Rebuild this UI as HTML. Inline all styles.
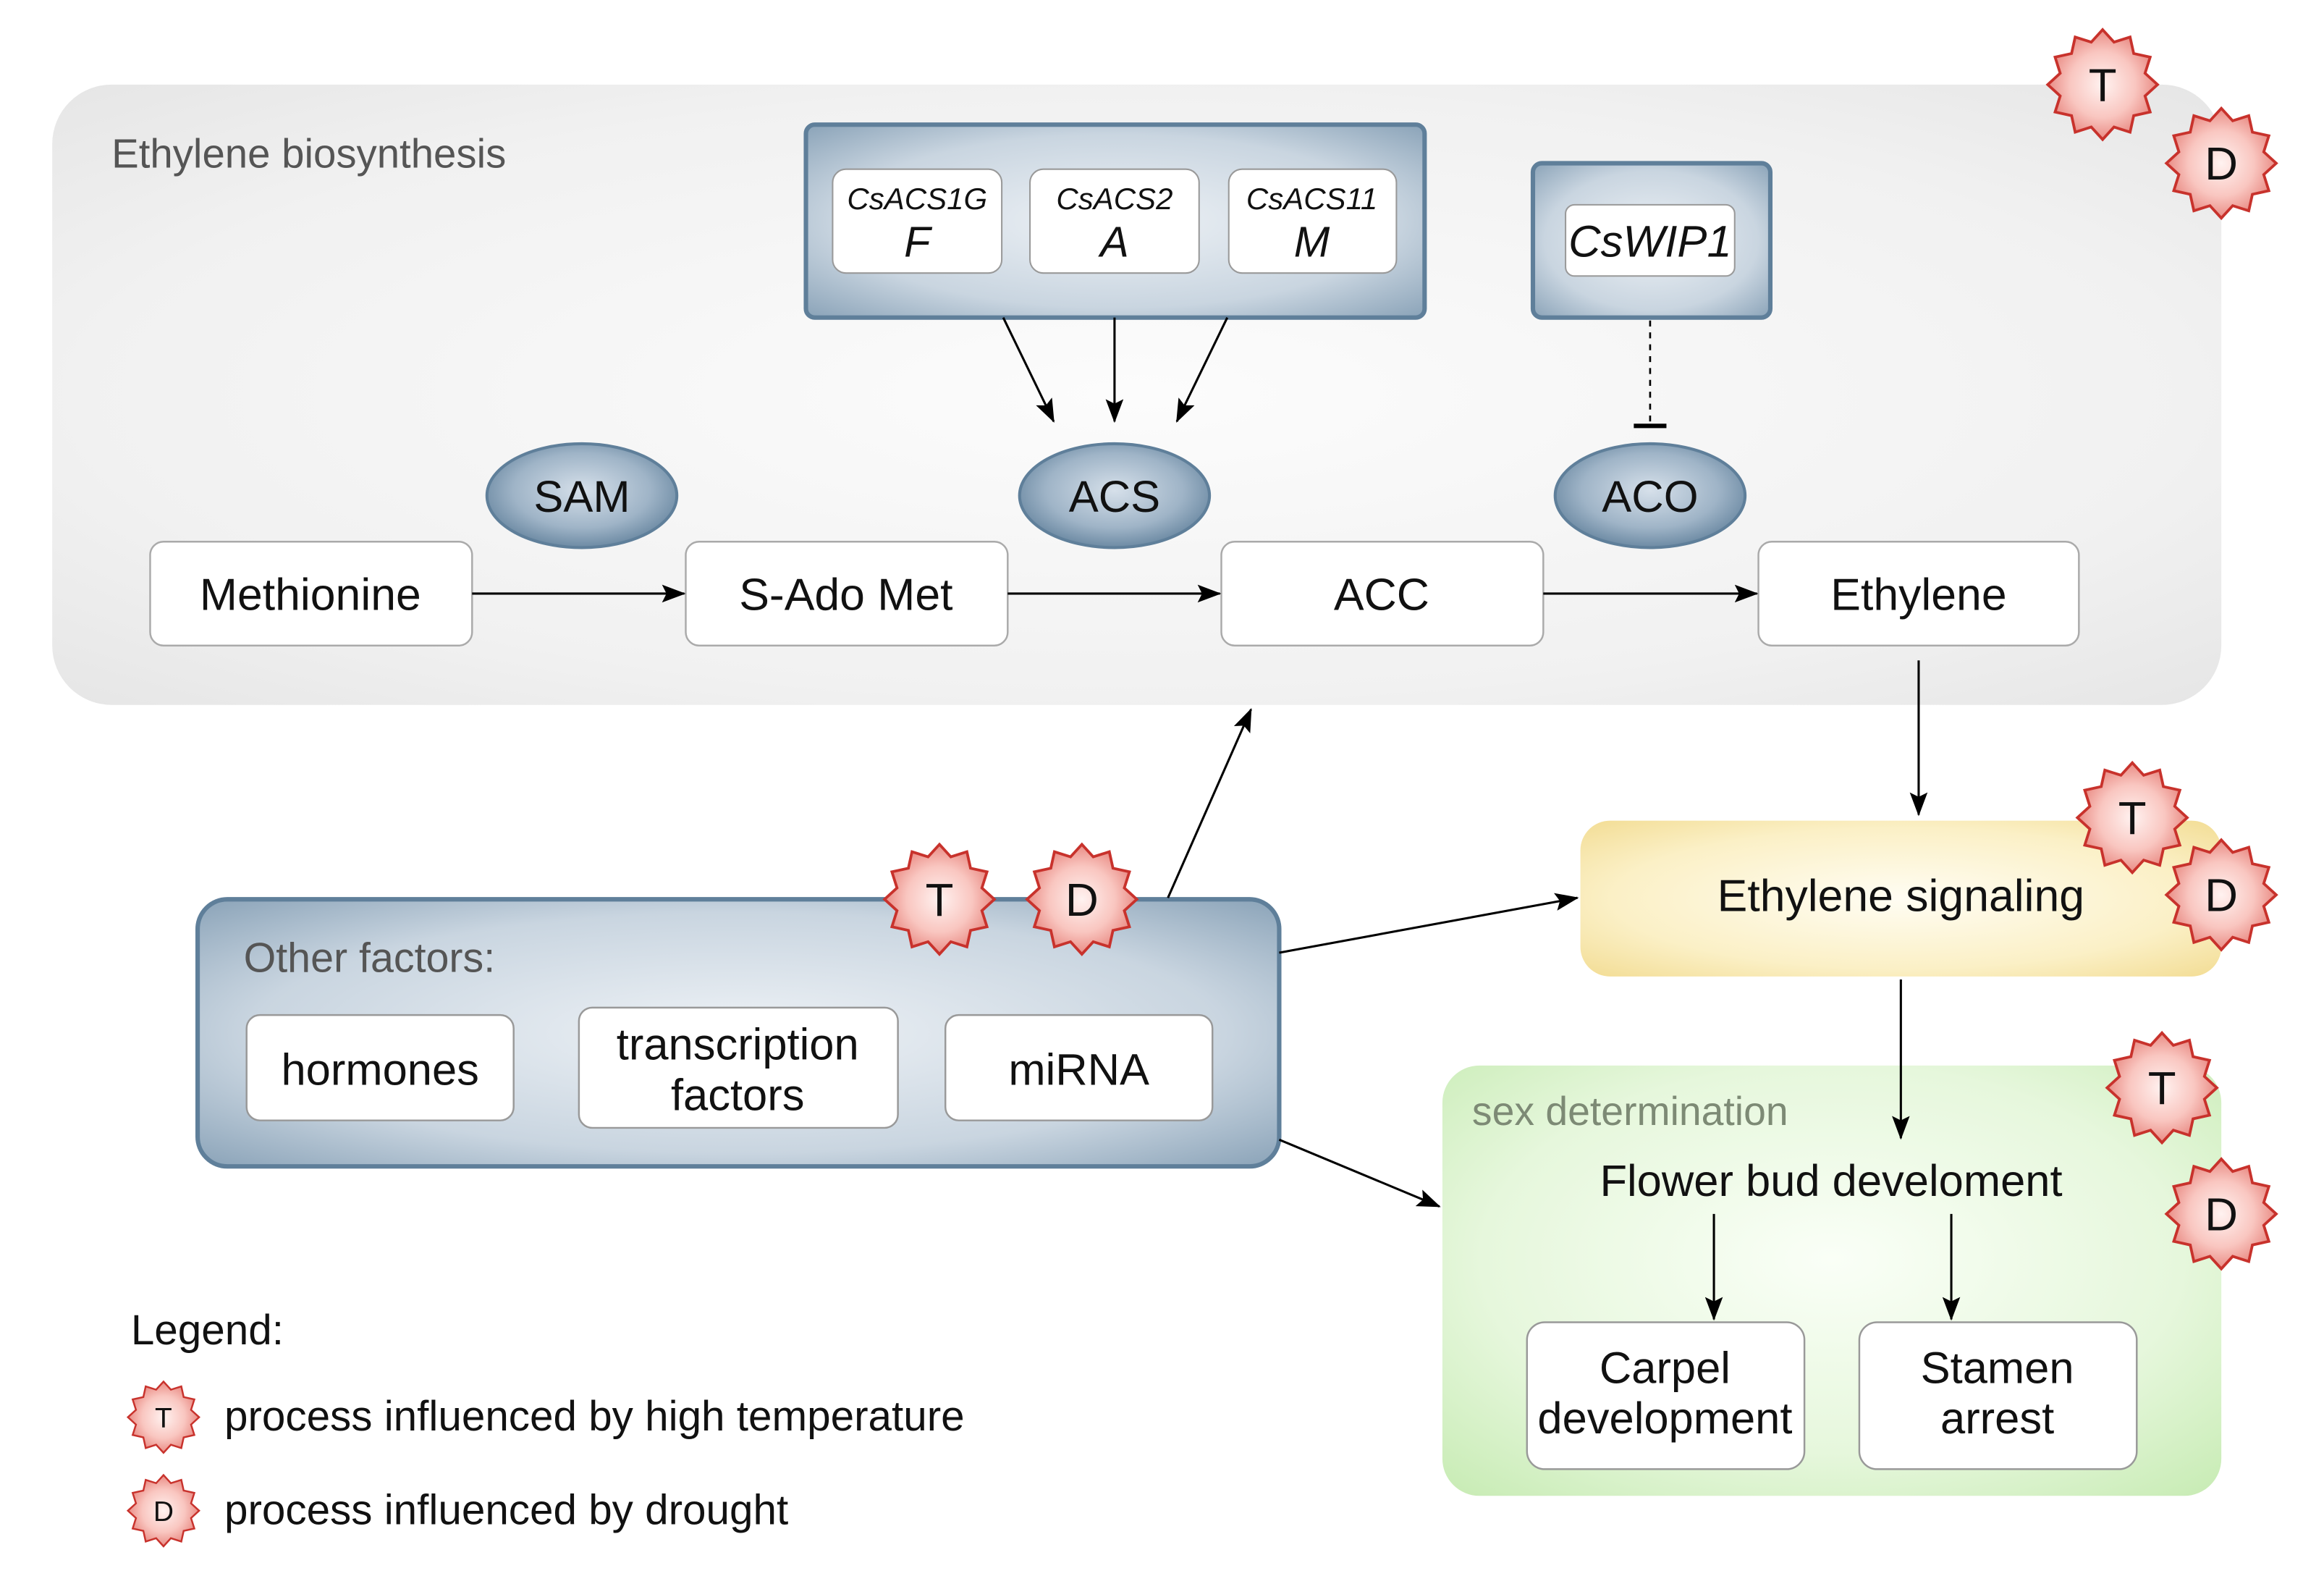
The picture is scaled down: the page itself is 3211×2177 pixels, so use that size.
<!DOCTYPE html>
<html><head><meta charset="utf-8"><style>
html,body{margin:0;padding:0;background:#fff}
svg{display:block}
text{font-family:"Liberation Sans",sans-serif}
</style></head><body>
<svg width="3211" height="2177" viewBox="0 0 1566 1062" xmlns="http://www.w3.org/2000/svg">
<defs>
<radialGradient id="gray" cx="0.5" cy="0.5" r="0.7">
<stop offset="0" stop-color="#fcfcfc"/><stop offset="0.7" stop-color="#f1f1f1"/><stop offset="1" stop-color="#e6e6e6"/>
</radialGradient>
<radialGradient id="blue" cx="0.5" cy="0.5" r="0.75">
<stop offset="0" stop-color="#eef2f6"/><stop offset="0.6" stop-color="#c9d5e0"/><stop offset="1" stop-color="#7f9ab1"/>
</radialGradient>
<radialGradient id="ell" cx="0.5" cy="0.45" r="0.6">
<stop offset="0" stop-color="#d6e0ea"/><stop offset="0.6" stop-color="#9fb4c7"/><stop offset="1" stop-color="#5f7f9a"/>
</radialGradient>
<radialGradient id="yel" cx="0.5" cy="0.5" r="0.75">
<stop offset="0" stop-color="#fffdf3"/><stop offset="0.6" stop-color="#fbf0c6"/><stop offset="1" stop-color="#f1d98b"/>
</radialGradient>
<radialGradient id="grn" cx="0.5" cy="0.45" r="0.75">
<stop offset="0" stop-color="#fafff7"/><stop offset="0.6" stop-color="#e6f7dc"/><stop offset="1" stop-color="#c6ebb2"/>
</radialGradient>
<radialGradient id="starg" cx="0.5" cy="0.5" r="0.5">
<stop offset="0" stop-color="#fff2f0"/><stop offset="0.6" stop-color="#f9c6c0"/><stop offset="1" stop-color="#e98b84"/>
</radialGradient>
<polygon id="star" points="0,-1 0.207,-0.773 0.5,-0.866 0.566,-0.566 0.866,-0.5 0.773,-0.207 1,0 0.773,0.207 0.866,0.5 0.566,0.566 0.5,0.866 0.207,0.773 0,1 -0.207,0.773 -0.5,0.866 -0.566,0.566 -0.866,0.5 -0.773,0.207 -1,0 -0.773,-0.207 -0.866,-0.5 -0.566,-0.566 -0.5,-0.866 -0.207,-0.773" fill="url(#starg)" stroke="#c8322c" stroke-width="0.05"/>
<marker id="arb" markerWidth="16" markerHeight="12" refX="15" refY="6" orient="auto" markerUnits="userSpaceOnUse">
<path d="M0,0 L16,6 L0,12 L3,6 Z" fill="#000"/>
</marker>
</defs>

<rect x="35" y="57" width="1462" height="418" rx="40" fill="url(#gray)"/>
<text x="75" y="113" font-size="27.5" fill="#555">Ethylene biosynthesis</text>

<rect x="543" y="84" width="417" height="130" rx="6" fill="url(#blue)" stroke="#5f7f9a" stroke-width="3"/>
<g fill="#fff" stroke="#999" stroke-width="1">
<rect x="561" y="114" width="114" height="70" rx="9"/>
<rect x="694" y="114" width="114" height="70" rx="9"/>
<rect x="828" y="114" width="113" height="70" rx="9"/>
</g>
<g font-style="italic" text-anchor="middle" fill="#111">
<text x="618" y="141" font-size="20.5">CsACS1G</text><text x="618" y="173" font-size="29">F</text>
<text x="751" y="141" font-size="20.5">CsACS2</text><text x="751" y="173" font-size="29">A</text>
<text x="884" y="141" font-size="20.5">CsACS11</text><text x="884" y="173" font-size="29">M</text>
</g>

<rect x="1033" y="110" width="160" height="104" rx="6" fill="url(#blue)" stroke="#5f7f9a" stroke-width="3"/>
<rect x="1055" y="138" width="114" height="48" rx="6" fill="#fff" stroke="#999"/>
<text x="1112" y="173" font-size="30" font-style="italic" text-anchor="middle" fill="#111">CsWIP1</text>

<g stroke="#000" stroke-width="1.5" fill="none" marker-end="url(#arb)">
<line x1="676" y1="214" x2="710" y2="284"/>
<line x1="751" y1="214" x2="751" y2="284"/>
<line x1="827" y1="214" x2="793" y2="284"/>
</g>
<line x1="1112" y1="216" x2="1112" y2="284" stroke="#000" stroke-width="1.3" stroke-dasharray="4,4"/>
<line x1="1101" y1="287" x2="1123" y2="287" stroke="#000" stroke-width="3"/>

<g fill="url(#ell)" stroke="#5f7f9a" stroke-width="2">
<ellipse cx="392" cy="334" rx="64" ry="35"/>
<ellipse cx="751" cy="334" rx="64" ry="35"/>
<ellipse cx="1112" cy="334" rx="64" ry="35"/>
</g>
<g font-size="30" text-anchor="middle" fill="#111">
<text x="392" y="345">SAM</text><text x="751" y="345">ACS</text><text x="1112" y="345">ACO</text>
</g>

<g fill="#fff" stroke="#aaa" stroke-width="1.2">
<rect x="101" y="365" width="217" height="70" rx="9"/>
<rect x="462" y="365" width="217" height="70" rx="9"/>
<rect x="823" y="365" width="217" height="70" rx="9"/>
<rect x="1185" y="365" width="216" height="70" rx="9"/>
</g>
<g font-size="30.5" text-anchor="middle" fill="#111">
<text x="209" y="411">Methionine</text>
<text x="570" y="411">S-Ado Met</text>
<text x="931" y="411">ACC</text>
<text x="1293" y="411">Ethylene</text>
</g>
<g stroke="#000" stroke-width="1.5" marker-end="url(#arb)">
<line x1="318" y1="400" x2="461" y2="400"/>
<line x1="679" y1="400" x2="822" y2="400"/>
<line x1="1040" y1="400" x2="1184" y2="400"/>
</g>

<rect x="1065" y="553" width="432" height="105" rx="20" fill="url(#yel)"/>
<text x="1281" y="614" font-size="30.5" text-anchor="middle" fill="#111">Ethylene signaling</text>

<rect x="133" y="606" width="729" height="180" rx="20" fill="url(#blue)" stroke="#5f7f9a" stroke-width="3"/>
<text x="164" y="655" font-size="28" fill="#555">Other factors:</text>
<g fill="#fff" stroke="#999" stroke-width="1.2">
<rect x="166" y="684" width="180" height="71" rx="9"/>
<rect x="390" y="679" width="215" height="81" rx="9"/>
<rect x="637" y="684" width="180" height="71" rx="9"/>
</g>
<g font-size="30" text-anchor="middle" fill="#111">
<text x="256" y="731">hormones</text>
<text x="497" y="714">transcription</text>
<text x="497" y="748">factors</text>
<text x="727" y="731">miRNA</text>
</g>

<rect x="972" y="718" width="525" height="290" rx="25" fill="url(#grn)"/>
<text x="992" y="758" font-size="27" fill="#7d8a75">sex determination</text>
<text x="1234" y="806" font-size="30" text-anchor="middle" fill="#111">Flower bud develoment</text>
<g fill="#fff" stroke="#999" stroke-width="1.2">
<rect x="1029" y="891" width="187" height="99" rx="12"/>
<rect x="1253" y="891" width="187" height="99" rx="12"/>
</g>
<g font-size="30" text-anchor="middle" fill="#111">
<text x="1122" y="932">Carpel</text><text x="1122" y="966">development</text>
<text x="1346" y="932">Stamen</text><text x="1346" y="966">arrest</text>
</g>

<g stroke="#000" stroke-width="1.5" fill="none" marker-end="url(#arb)">
<line x1="1293" y1="445" x2="1293" y2="549"/>
<line x1="787" y1="605" x2="843" y2="478"/>
<line x1="862" y1="642" x2="1063" y2="605"/>
<line x1="862" y1="768" x2="970" y2="813"/>
<line x1="1281" y1="660" x2="1281" y2="767"/>
<line x1="1155" y1="818" x2="1155" y2="889"/>
<line x1="1315" y1="818" x2="1315" y2="889"/>
</g>

<g font-size="31" text-anchor="middle" fill="#111">
<use href="#star" transform="translate(1417,57) scale(37)"/><text x="1417" y="68">T</text>
<use href="#star" transform="translate(1497,110) scale(37)"/><text x="1497" y="121">D</text>
<use href="#star" transform="translate(1437,551) scale(37)"/><text x="1437" y="562">T</text>
<use href="#star" transform="translate(1497,603) scale(37)"/><text x="1497" y="614">D</text>
<use href="#star" transform="translate(633,606) scale(37)"/><text x="633" y="617">T</text>
<use href="#star" transform="translate(729,606) scale(37)"/><text x="729" y="617">D</text>
<use href="#star" transform="translate(1457,733) scale(37)"/><text x="1457" y="744">T</text>
<use href="#star" transform="translate(1497,818) scale(37)"/><text x="1497" y="829">D</text>
<use href="#star" transform="translate(110,955) scale(24)"/><text x="110" y="962" font-size="19">T</text>
<use href="#star" transform="translate(110,1018) scale(24)"/><text x="110" y="1025" font-size="19">D</text>
</g>

<g font-size="28.5" fill="#111">
<text x="88" y="906">Legend:</text>
<text x="151" y="964">process influenced by high temperature</text>
<text x="151" y="1027">process influenced by drought</text>
</g>
</svg>
</body></html>
